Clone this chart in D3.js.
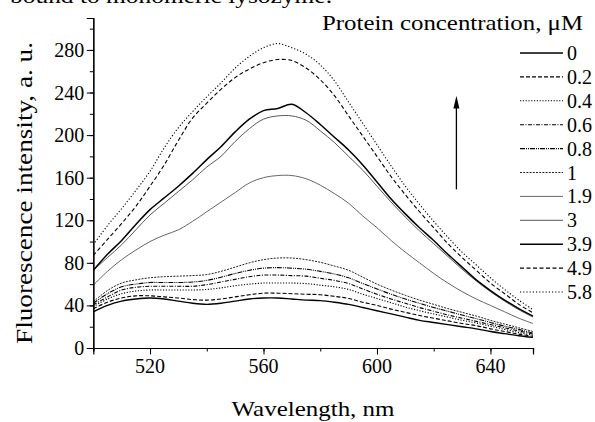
<!DOCTYPE html>
<html>
<head>
<meta charset="utf-8">
<script src="https://cdn.jsdelivr.net/npm/d3@7"></script>
</head>
<body style="margin:0">
<script>
const wavelengths = [500, 505, 510, 515, 520, 525, 530, 535, 540, 545, 550, 555, 560, 565, 570, 575,
  580, 585, 590, 595, 600, 605, 610, 615, 620, 625, 630, 635, 640, 645, 650, 655];

const concentrations = ["0", "0.2", "0.4", "0.6", "0.8", "1", "1.9", "3", "3.9", "4.9", "5.8"];

const c0 = [34, 40, 44, 46, 47, 46, 44, 42, 41, 42, 44, 46, 47, 47, 46, 45,
  44.5, 43, 41, 38, 35, 32, 29, 26, 24, 22, 20, 18, 15.5, 13.5, 11.5, 10];
const c02 = [37, 43, 47, 49, 49, 48, 47, 45.5, 45, 46, 48, 50, 51.5, 51.5, 51, 50.5,
  50, 48.5, 46.5, 43, 40, 36.5, 33.5, 30.5, 28, 25.5, 23, 21, 18, 15.5, 13, 11];
const c04 = [39, 46, 51, 53.5, 54.5, 54.5, 54.5, 54.5, 55, 56.5, 58.5, 60, 61, 61, 61, 60.5,
  59, 57.5, 55, 50.5, 46.5, 42.5, 38.5, 35, 32, 29, 26, 23.5, 20.5, 17.5, 14.5, 12];
const c06 = [40.5, 48, 54.5, 57, 58, 58, 58, 58, 59.5, 62, 64.5, 67, 68.5, 68.5, 68, 67.5,
  65.5, 63.5, 60.5, 55.5, 50.5, 46, 42, 38, 34.5, 31, 28, 25, 22, 19, 16, 13];
const c08 = [42, 51, 57.5, 60, 61.5, 61.5, 61.5, 62, 63.5, 66.5, 70, 73, 75, 75.5, 75, 74,
  72, 69.5, 66, 60.5, 55.5, 50.5, 46, 42, 38, 34.5, 31, 27.5, 24, 20.5, 17.5, 14];
const c1 = [43.5, 54, 61, 64, 66, 67, 67.5, 68, 69, 72, 76, 80, 83, 84.5, 84.5, 83,
  80.5, 77, 73, 66.5, 60, 54.5, 49.5, 45, 41, 37, 33.5, 30, 26, 22.5, 19, 15.5];
const c19 = [59, 72, 83, 92, 100, 106, 111, 119, 128, 137, 146, 155, 160, 162, 162, 159,
  153, 145, 136, 124, 113, 101, 90, 80, 70, 61, 53, 46, 40, 34, 28, 23];
const c3 = [73, 85, 97, 111, 125, 136, 147, 158, 170, 180, 194, 206, 215, 218, 218, 214,
  204, 193, 180, 167, 152, 137, 123, 110, 98, 86, 74, 63, 53, 44, 36, 29];
const c39 = [73, 88, 101, 116, 130, 141, 152, 164, 177, 189, 203, 215, 223, 225, 229, 221,
  210, 198, 186, 172, 156, 140, 126, 113, 101, 88, 76, 64, 54, 45, 37, 30];
const c49 = [87, 102, 117, 133, 152, 172, 195, 216, 230, 243, 254, 262, 268, 271, 270, 263,
  252, 237, 218, 199, 180, 161, 144, 128, 113, 98, 85, 73, 61, 51, 41, 33];
const c58 = [97, 115, 131, 148, 166, 188, 207, 222, 236, 249, 263, 274, 282, 286, 282, 276,
  266, 251, 231, 211, 191, 171, 152, 135, 119, 104, 90, 78, 66, 55, 45, 36];

const xTicks = [520, 560, 600, 640];
const yTicks = [0, 40, 80, 120, 160, 200, 240, 280];

const seriesValues = [c0, c02, c04, c06, c08, c1, c19, c3, c39, c49, c58];

const lineStyles = [
  { dash: null, width: 1.4, color: "#000" },
  { dash: "4,2", width: 1.1, color: "#000" },
  { dash: "1.2,1.6", width: 1.1, color: "#000" },
  { dash: "4,1.5,1,1.5", width: 1.1, color: "#000" },
  { dash: "5,1,1,1,1,1", width: 1.1, color: "#000" },
  { dash: "2,1.2", width: 1, color: "#222" },
  { dash: null, width: 0.9, color: "#555" },
  { dash: null, width: 0.9, color: "#444" },
  { dash: null, width: 1.5, color: "#000" },
  { dash: "4,2.5", width: 1.1, color: "#000" },
  { dash: "1.2,2", width: 1.1, color: "#000" },
];

const svg = d3
  .select("body")
  .append("svg")
  .attr("width", 595)
  .attr("height", 422);

const x = d3.scaleLinear().domain([500, 655]).range([93.3, 533]);
const y = d3.scaleLinear().domain([0, 310]).range([348, 18]);

function addText(parent, size) {
  return parent
    .append("text")
    .style("font-family", '"Liberation Serif"')
    .style("font-size", size + "px");
}

// clipped caption line from the page above the figure
addText(svg, 22)
  .attr("x", 10)
  .attr("y", 3)
  .attr("textLength", 322)
  .attr("lengthAdjust", "spacingAndGlyphs")
  .text("bound to monomeric lysozyme.");

const line = d3
  .line()
  .x((d, i) => x(wavelengths[i]))
  .y((d) => y(d))
  .curve(d3.curveCatmullRom.alpha(0.5));

svg
  .append("g")
  .selectAll("path")
  .data(seriesValues)
  .join("path")
  .attr("d", line)
  .attr("fill", "none")
  .attr("stroke", (d, i) => lineStyles[i].color)
  .attr("stroke-width", (d, i) => lineStyles[i].width)
  .attr("stroke-dasharray", (d, i) => lineStyles[i].dash);

// axes drawn by hand-off to d3.axis, ticks only; labels added as plain text
const yMinor = d3.axisLeft(y).tickValues(d3.range(0, 301, 20)).tickSize(3.5).tickFormat("");
const yMajor = d3.axisLeft(y).tickValues(yTicks).tickSize(6.5).tickFormat("");
const xMinor = d3.axisBottom(x).tickValues(d3.range(500, 641, 20)).tickSize(3.5).tickFormat("");
const xMajor = d3.axisBottom(x).tickValues(xTicks).tickSize(6.5).tickFormat("");

svg.append("g").attr("transform", `translate(${x(500)},0)`).call(yMinor);
svg.append("g").attr("transform", `translate(${x(500)},0)`).call(yMajor);
svg.append("g").attr("transform", `translate(0,${y(0)})`).call(xMinor);
svg.append("g").attr("transform", `translate(0,${y(0)})`).call(xMajor);

svg.selectAll(".domain").attr("stroke", "#000").attr("stroke-width", 1.2);
svg.selectAll(".tick line").attr("stroke", "#000").attr("stroke-width", 1);
svg.selectAll(".tick text").remove();

const yLabels = svg.append("g");
yTicks.forEach((v) => {
  addText(yLabels, 20)
    .attr("x", x(500) - 9)
    .attr("y", y(v))
    .attr("dy", "0.35em")
    .attr("text-anchor", "end")
    .text(v);
});

const xLabels = svg.append("g");
xTicks.forEach((v) => {
  addText(xLabels, 20)
    .attr("x", x(v))
    .attr("y", y(0) + 25)
    .attr("text-anchor", "middle")
    .text(v);
});

addText(svg, 23)
  .attr("transform", `translate(32,193) rotate(-90)`)
  .attr("text-anchor", "middle")
  .attr("textLength", 302)
  .attr("lengthAdjust", "spacingAndGlyphs")
  .text("Fluorescence intensity, a. u.");

addText(svg, 22)
  .attr("x", 313)
  .attr("y", 416)
  .attr("text-anchor", "middle")
  .attr("textLength", 163)
  .attr("lengthAdjust", "spacingAndGlyphs")
  .text("Wavelength, nm");

// arrow showing increasing concentration
const arrowX = x(628);
svg
  .append("line")
  .attr("x1", arrowX)
  .attr("x2", arrowX)
  .attr("y1", y(149))
  .attr("y2", y(228))
  .attr("stroke", "#000")
  .attr("stroke-width", 1.3);
svg
  .append("path")
  .attr("d", `M${arrowX},${y(237)} L${arrowX - 3},${y(225)} L${arrowX + 3},${y(225)} Z`)
  .attr("fill", "#000");

// legend
const legend = svg.append("g");

addText(legend, 22)
  .attr("x", 322)
  .attr("y", 30)
  .attr("textLength", 261)
  .attr("lengthAdjust", "spacingAndGlyphs")
  .text("Protein concentration, \u03BCM");

concentrations.forEach((c, i) => {
  const row = legend.append("g").attr("transform", `translate(520,${53 + i * 23.9})`);
  row
    .append("line")
    .attr("x1", 0)
    .attr("x2", 43)
    .attr("stroke", lineStyles[i].color)
    .attr("stroke-width", lineStyles[i].width)
    .attr("stroke-dasharray", lineStyles[i].dash);
  addText(row, 20).attr("x", 47).attr("dy", "0.35em").text(c);
});
</script>
</body>
</html>
